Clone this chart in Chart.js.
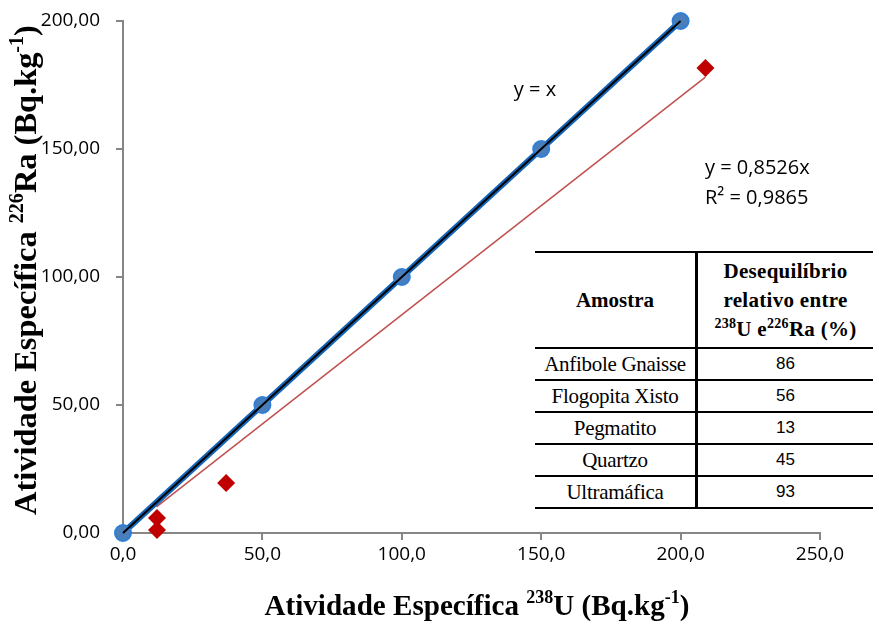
<!DOCTYPE html>
<html>
<head>
<meta charset="utf-8">
<script src="https://cdn.jsdelivr.net/npm/chart.js@4.4.1/dist/chart.umd.min.js"></script>
<style>
  body { margin: 0; background: #fff; }
  #wrap { position: relative; width: 879px; height: 630px; }
  table.amostra {
    position: absolute; left: 535px; top: 251px; width: 338px;
    border-collapse: collapse; background: #fff;
  }
  table.amostra td, table.amostra th {
    border-top: 2px solid #000; border-bottom: 2px solid #000;
    padding: 0; text-align: center; color: #000; white-space: nowrap;
  }
  table.amostra th { font: bold 21px "Liberation Serif", serif; height: 94px; line-height: 29px; }
  table.amostra th.head2 { letter-spacing: 0.3px; }
  table.amostra td.name { font: 21px "Liberation Serif", serif; height: 30px; width: 160px; border-right: 3px solid #000; letter-spacing: -0.3px; }
  table.amostra th.name { border-right: 3px solid #000; }
  table.amostra td.val { font: 17px "Liberation Sans", sans-serif; }
  sup { font-size: 14px; line-height: 0; }
</style>
</head>
<body>
<div id="wrap">
  <canvas id="chart" width="879" height="630"></canvas>
  <table class="amostra">
    <tr><th class="name">Amostra</th><th class="head2">Desequilíbrio<br>relativo entre<br><sup>238</sup>U e<sup>226</sup>Ra (%)</th></tr>
  </table>
</div>
<script>
// pontos em equilíbrio (y = x)
var eqX = [0, 50, 100, 150, 200];
var eqY = [0, 50, 100, 150, 200];

// amostras medidas
var amostraX = [12.2, 12.2, 37, 208.9];
var amostraY = [1.2, 5.9, 19.5, 181.6];

// ajuste linear das amostras
var slope = 0.8526;
var fitX = [12, 208.9];

// tabela
var amostras = ['Anfibole Gnaisse', 'Flogopita Xisto', 'Pegmatito', 'Quartzo', 'Ultramáfica'];
var desequilibrio = [86, 56, 13, 45, 93];

var xTicks = [0, 50, 100, 150, 200, 250];
var yTicks = [0, 50, 100, 150, 200];

var tbl = document.querySelector('table.amostra');
amostras.forEach(function(a, i) {
  var tr = document.createElement('tr');
  tr.innerHTML = '<td class="name">' + a + '</td><td class="val">' + desequilibrio[i] + '</td>';
  tbl.appendChild(tr);
});

function pts(xs, ys) {
  return xs.map(function(x, i) { return { x: x, y: ys[i] }; });
}

// texto com sobrescritos, ajustado a uma largura alvo (cx, cy = centro da linha de base)
function drawRich(ctx, parts, target, cx, cy, rot) {
  function fonts(size) {
    return {
      big: 'bold ' + size + 'px "Liberation Serif", serif',
      small: 'bold ' + (size * 0.62).toFixed(1) + 'px "Liberation Serif", serif'
    };
  }
  function measure(size) {
    var f = fonts(size), w = 0;
    parts.forEach(function(p) {
      ctx.font = p.sup ? f.small : f.big;
      w += ctx.measureText(p.t).width;
    });
    return w;
  }
  var size = 20 * target / measure(20);
  var f = fonts(size);
  var w = measure(size);
  ctx.save();
  ctx.translate(cx, cy);
  ctx.rotate(rot);
  ctx.fillStyle = '#000';
  ctx.textBaseline = 'alphabetic';
  ctx.textAlign = 'left';
  var x = -w / 2;
  parts.forEach(function(p) {
    ctx.font = p.sup ? f.small : f.big;
    ctx.fillText(p.t, x, p.sup ? -size * 0.4 : 0);
    x += ctx.measureText(p.t).width;
  });
  ctx.restore();
}

var textPlugin = {
  id: 'texts',
  afterDraw: function(chart) {
    var ctx = chart.ctx;
    drawRich(ctx, [
      { t: 'Atividade Específica ' }, { t: '238', sup: true }, { t: 'U (Bq.kg' },
      { t: '-1', sup: true }, { t: ')' }
    ], 425, 477, 615, 0);
    drawRich(ctx, [
      { t: 'Atividade Específica ' }, { t: '226', sup: true }, { t: 'Ra (Bq.kg' },
      { t: '-1', sup: true }, { t: ')' }
    ], 490, 36, 270, -Math.PI / 2);

    ctx.save();
    ctx.fillStyle = '#000';
    ctx.font = '20px "Open Sans", sans-serif';
    ctx.textBaseline = 'middle';
    ctx.textAlign = 'center';
    ctx.fillText('y = x', 535, 90);
    ctx.textAlign = 'left';
    ctx.fillText('y = 0,8526x', 705, 168);
    ctx.fillText('R² = 0,9865', 705, 198);
    ctx.restore();
  }
};

var ctx = document.getElementById('chart').getContext('2d');
new Chart(ctx, {
  type: 'scatter',
  data: {
    datasets: [{
      data: [{ x: 0, y: 0 }, { x: 200, y: 200 }],
      showLine: true,
      borderColor: '#000000',
      borderWidth: 2,
      pointRadius: 0,
      clip: false,
      order: 1
    }, {
      data: pts(eqX, eqY),
      showLine: true,
      borderColor: '#1565b8',
      borderWidth: 6,
      backgroundColor: '#4a7ebb',
      pointBorderColor: '#2f7ed8',
      pointBorderWidth: 2,
      pointRadius: 8,
      clip: false,
      order: 2
    }, {
      data: fitX.map(function(x) { return { x: x, y: slope * x }; }),
      showLine: true,
      borderColor: '#c0504d',
      borderWidth: 1.5,
      pointRadius: 0,
      clip: false,
      order: 3
    }, {
      data: pts(amostraX, amostraY),
      pointStyle: 'rectRot',
      backgroundColor: '#c00000',
      borderColor: '#c00000',
      borderWidth: 0,
      pointRadius: 9,
      clip: false,
      order: 0
    }]
  },
  options: {
    responsive: false,
    animation: false,
    events: [],
    layout: { padding: { top: 21, right: 59, left: 0, bottom: 0 } },
    plugins: { legend: { display: false }, tooltip: { enabled: false } },
    scales: {
      x: {
        type: 'linear', min: 0, max: 250,
        afterBuildTicks: function(s) { s.ticks = xTicks.map(function(v) { return { value: v }; }); },
        afterFit: function(s) { s.height = 97; },
        ticks: {
          color: '#000', padding: 3,
          font: { family: 'Open Sans', size: 19 },
          callback: function(v) { return v.toFixed(1).replace('.', ','); }
        },
        grid: { drawOnChartArea: false, drawTicks: true, tickLength: 7, color: '#868686', lineWidth: 2 },
        border: { color: '#868686', width: 2 }
      },
      y: {
        type: 'linear', min: 0, max: 200,
        afterBuildTicks: function(s) { s.ticks = yTicks.map(function(v) { return { value: v }; }); },
        afterFit: function(s) { s.width = 123; s.paddingTop = 0; s.paddingBottom = 0; },
        ticks: {
          color: '#000', padding: 16,
          font: { family: 'Open Sans', size: 19 },
          callback: function(v) { return v.toFixed(2).replace('.', ','); }
        },
        grid: { drawOnChartArea: false, drawTicks: true, tickLength: 7, color: '#868686', lineWidth: 2 },
        border: { color: '#868686', width: 2 }
      }
    }
  },
  plugins: [textPlugin]
});
</script>
</body>
</html>
